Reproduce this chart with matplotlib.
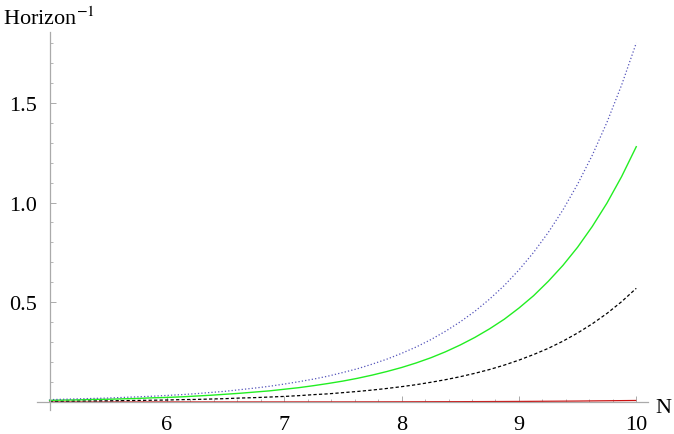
import matplotlib
matplotlib.use("Agg")
import matplotlib.pyplot as plt
from matplotlib.ticker import MultipleLocator, FixedLocator

N = [5.0, 5.125, 5.25, 5.375, 5.5, 5.625, 5.75, 5.875,
     6.0, 6.125, 6.25, 6.375, 6.5, 6.625, 6.75, 6.875,
     7.0, 7.125, 7.25, 7.375, 7.5, 7.625, 7.75, 7.875,
     8.0, 8.125, 8.25, 8.375, 8.5, 8.625, 8.75, 8.875,
     9.0, 9.125, 9.25, 9.375, 9.5, 9.625, 9.75, 9.875, 10.0]
blue = [0.012, 0.014, 0.016, 0.018, 0.020, 0.023, 0.026, 0.029,
        0.033, 0.037, 0.042, 0.048, 0.054, 0.062, 0.070, 0.079,
        0.090, 0.102, 0.115, 0.130, 0.148, 0.167, 0.190, 0.215,
        0.244, 0.276, 0.313, 0.355, 0.402, 0.455, 0.516, 0.584,
        0.662, 0.750, 0.850, 0.963, 1.092, 1.237, 1.402, 1.589, 1.800]
green = [0.0086, 0.010, 0.011, 0.013, 0.014, 0.016, 0.018, 0.021,
         0.023, 0.026, 0.030, 0.034, 0.039, 0.044, 0.050, 0.056,
         0.064, 0.072, 0.082, 0.093, 0.105, 0.119, 0.135, 0.153,
         0.173, 0.196, 0.222, 0.252, 0.286, 0.324, 0.367, 0.415,
         0.471, 0.533, 0.605, 0.685, 0.776, 0.880, 0.997, 1.130, 1.280]
black = [0.004, 0.0045, 0.005, 0.0055, 0.006, 0.007, 0.008, 0.009,
         0.010, 0.012, 0.013, 0.015, 0.017, 0.020, 0.022, 0.025,
         0.028, 0.032, 0.037, 0.041, 0.047, 0.053, 0.060, 0.068,
         0.077, 0.087, 0.099, 0.112, 0.127, 0.144, 0.163, 0.185,
         0.210, 0.238, 0.269, 0.305, 0.346, 0.392, 0.444, 0.503, 0.570]
N_red = [5.0, 5.5, 6.0, 6.5, 7.0, 7.5, 8.0, 8.5, 9.0, 9.5, 10.0]
red = [0.0001, 0.0001, 0.0002, 0.0003, 0.0005, 0.0007,
       0.0011, 0.0018, 0.0029, 0.0048, 0.0078]

x_ticks = [6, 7, 8, 9, 10]
y_ticks = [0.5, 1.0, 1.5]
y_tick_labels = ["0.5", "1.0", "1.5"]

plt.rcParams['font.family'] = ['Liberation Serif', 'DejaVu Serif']

fig = plt.figure(figsize=(6.74, 4.35), dpi=100)
W, H = 674, 435
ax = fig.add_axes([37 / W, (H - 411) / H, (648 - 37) / W, (411 - 33) / H])

ax.plot(N_red, red, color='#cc1111', lw=0.9, solid_capstyle='butt')
ax.plot(N, black, color='black', lw=0.9, linestyle=(0, (2.6, 1.8)))
ax.plot(N, green, color='#22ee22', lw=1.0)
ax.plot(N, blue, color='#5555bb', lw=0.9, linestyle=(0, (1, 1.7)))

ax.set_xlim(4.893, 10.1)
ax.set_ylim(-0.04, 1.855)

for s in ['top', 'right']:
    ax.spines[s].set_visible(False)
ax.spines['left'].set_position(('data', 5))
ax.spines['bottom'].set_position(('data', 0))
for s in ['left', 'bottom']:
    ax.spines[s].set_color('#aaaaaa')
    ax.spines[s].set_linewidth(0.9)

ax.xaxis.set_major_locator(FixedLocator(x_ticks))
ax.xaxis.set_minor_locator(MultipleLocator(0.2))
ax.yaxis.set_major_locator(FixedLocator(y_ticks))
ax.yaxis.set_minor_locator(MultipleLocator(0.1))
ax.set_yticklabels(y_tick_labels)

ax.tick_params(which='major', direction='in', length=4, width=0.7, color='#aaaaaa',
               labelsize=16, pad=9)
ax.tick_params(which='minor', direction='in', length=2.2, width=0.6, color='#aaaaaa')

fig.text(3 / W, 1 - 25 / H, r"Horizon$^{-1}$", fontsize=16, ha='left', va='baseline',
         math_fontfamily='stix')
fig.text(655 / W, 1 - 413 / H, "N", fontsize=16, ha='left', va='baseline')

fig.savefig("out.png", dpi=100)
